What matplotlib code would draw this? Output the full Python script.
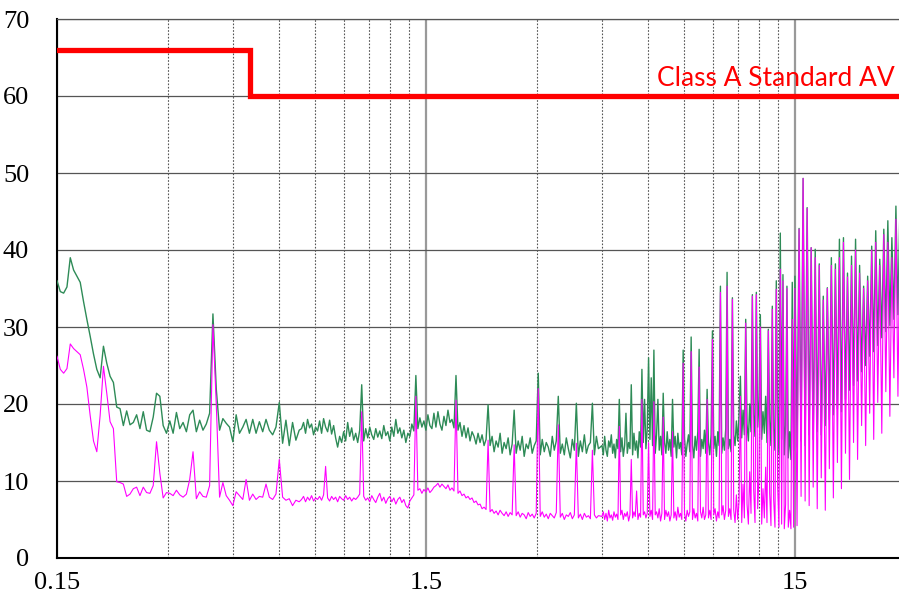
import numpy as np
import matplotlib
matplotlib.use("Agg")
import matplotlib.pyplot as plt
from matplotlib.ticker import FixedLocator, NullFormatter

# Conducted emission (AV detector), dBuV
# segment 1: 0.15 - 0.68 MHz
green_lo = [36.0, 34.6, 34.4, 35.2, 39.0, 37.4, 36.6, 35.8, 33.3, 31.0,
            28.8, 26.5, 24.5, 23.4, 27.5, 25.3, 23.6, 22.8, 19.6, 19.4,
            17.2, 19.1, 17.3, 17.6, 18.6, 16.8, 19.0, 16.6, 16.4, 18.3,
            21.4, 21.0, 17.2, 16.2, 17.8, 16.2, 18.9, 16.8, 17.6, 16.4,
            18.6, 19.2, 16.4, 17.9, 16.6, 17.4, 18.8, 31.7, 22.0, 16.6,
            18.1, 17.5, 17.0, 15.1, 18.6, 16.2, 17.0, 18.0, 16.2, 18.0,
            16.2, 17.7, 16.4, 18.0, 16.6, 16.0, 17.0, 20.2, 14.9, 17.9,
            14.6, 17.6, 15.3, 16.6]
magenta_lo = [26.2, 24.5, 24.0, 24.6, 27.8, 27.2, 26.8, 26.4, 24.5, 22.2,
              18.5, 15.2, 13.8, 18.5, 24.9, 21.4, 17.7, 16.8, 9.9, 9.8,
              9.6, 8.0, 8.3, 9.0, 9.2, 8.1, 9.2, 8.5, 8.4, 9.4,
              15.1, 11.0, 7.8, 8.5, 8.4, 8.1, 8.8, 8.2, 7.9, 8.3,
              10.2, 13.8, 7.7, 8.6, 8.0, 7.9, 9.4, 30.3, 20.0, 7.9,
              9.8, 8.1, 7.5, 6.8, 8.6, 8.1, 7.6, 10.2, 7.5, 8.3,
              7.6, 8.0, 7.9, 9.6, 7.9, 7.6, 8.3, 12.8, 7.9, 7.5,
              7.7, 6.8, 7.5, 7.3]

# segment 2: 0.69 - 4.4 MHz
green_mid = [16.8, 17.6, 16.2, 18.0, 16.9, 17.4, 16.0, 17.0, 16.5, 17.8,
             16.2, 18.1, 17.0, 16.4, 17.9, 16.1, 17.2, 15.6, 14.4, 15.8,
             15.0, 16.4, 15.2, 17.6, 15.8, 16.9, 15.3, 16.2, 15.0, 16.6,
             22.5, 15.2, 16.8, 15.6, 17.0, 16.0, 15.4, 16.8, 15.7, 16.5,
             15.5, 17.2, 15.9, 16.4, 15.2, 17.0, 15.8, 18.0, 16.2, 16.9,
             15.6, 16.6, 15.0, 16.2, 15.8, 17.4, 16.5, 23.7, 16.8, 18.2,
             17.0, 17.8, 16.6, 18.6, 17.2, 16.8, 18.8, 17.0, 19.0, 17.4,
             16.6, 18.4, 17.2, 19.2, 17.6, 18.0, 16.9, 23.7, 16.6, 17.6,
             15.8, 17.2, 15.6, 16.9, 15.2, 16.4, 15.8, 14.8, 16.2, 15.0,
             16.0, 14.6, 15.4, 19.9, 14.6, 15.8, 13.8, 15.2, 14.4, 16.2,
             13.6, 15.0, 14.2, 15.6, 13.4, 14.8, 19.2, 13.6, 15.2, 14.0,
             15.8, 13.2, 14.8, 14.2, 15.6, 13.6, 14.6, 15.2, 24.0, 13.4,
             15.4, 13.8, 15.0, 14.4, 13.2, 15.8, 14.0, 15.2, 21.0, 13.6,
             14.8, 13.4, 15.6, 14.2, 13.0, 15.4, 14.0, 20.1, 13.2, 15.2,
             13.8, 16.0, 13.6, 14.6, 15.0, 20.1, 13.4, 15.8, 14.2]
magenta_mid = [7.6, 8.0, 7.3, 7.9, 7.5, 8.1, 7.4, 7.8, 7.6, 8.0,
               7.5, 8.2, 11.9, 7.8, 7.4, 8.0, 7.6, 7.9, 7.3, 8.0,
               7.7, 7.5, 8.1, 7.6, 7.9, 7.4, 7.8, 7.6, 7.9, 8.3,
               19.0, 8.0, 7.5, 7.8, 7.3, 8.1, 7.6, 7.2, 7.9, 8.4,
               7.4, 7.9, 7.1, 7.7, 8.0, 7.3, 7.8, 7.0, 7.6, 7.9,
               7.2, 7.6, 6.8, 6.5, 7.4, 7.8, 8.2, 21.0, 8.8, 9.0,
               8.4, 8.9, 8.6, 9.1, 8.5, 8.8, 9.2, 9.4, 9.7, 9.2,
               9.6, 9.3, 9.0, 9.5, 8.8, 9.1, 8.7, 20.5, 8.4, 8.7,
               8.1, 8.3, 7.8, 8.0, 7.6, 7.8, 7.2, 7.4, 6.9, 7.0,
               6.4, 6.6, 6.3, 15.3, 6.0, 6.3, 5.8, 6.1, 5.6, 6.2,
               5.8, 5.5, 6.0, 5.4, 5.9, 5.6, 14.7, 5.5, 6.0, 5.3,
               5.8, 5.6, 5.1, 5.9, 5.4, 5.7, 5.2, 5.8, 22.0, 5.4,
               6.0, 5.3, 5.7, 5.1, 5.8, 5.5, 5.2, 5.9, 17.3, 5.3,
               5.8, 5.0, 5.6, 5.4, 5.9, 5.1, 5.6, 14.9, 5.2, 5.7,
               5.0, 5.8, 5.3, 5.5, 5.1, 14.0, 5.6, 5.2, 5.5]

# segment 3: 4.5 - 15 MHz
green_hi = [14.6, 13.4, 15.8, 14.0, 13.2, 15.2, 14.4, 16.0, 13.6, 14.8,
            13.0, 15.4, 14.2, 20.6, 13.8, 15.6, 13.2, 14.6, 18.8, 13.6,
            15.0, 14.2, 22.5, 13.4, 16.2, 14.0, 15.2, 13.0, 16.4, 14.4,
            24.5, 15.0, 20.6, 14.2, 16.8, 26.0, 15.4, 23.4, 14.6, 27.0,
            13.6, 16.0, 20.6, 14.0, 15.8, 13.4, 21.4, 15.0, 13.6, 16.4,
            14.0, 15.4, 13.2, 20.6, 14.4, 15.8, 13.0, 16.2, 14.2, 15.0,
            13.4, 27.0, 15.6, 13.2, 14.8, 16.0, 13.8, 28.7, 14.6, 13.0,
            15.8, 14.0, 16.4, 27.1, 13.2, 15.4, 14.2, 16.6, 13.6, 21.9,
            15.0, 13.4, 16.0, 29.5, 14.2, 15.8, 13.2, 16.4, 14.6, 35.3,
            13.6, 15.6, 14.0, 16.8, 37.1, 14.2, 15.4, 13.8, 33.8, 16.0,
            14.6, 17.8, 15.2, 18.4, 23.6, 15.6, 19.2, 16.0, 31.0, 17.4,
            15.2, 20.0, 16.4, 34.2, 18.6, 15.8, 34.5, 17.0, 20.4, 31.6,
            15.4, 19.0, 16.2, 21.0, 15.0, 29.7, 17.8, 14.6, 32.7, 16.8,
            14.0, 36.0, 18.6, 13.6, 42.2, 15.4, 36.8, 13.4, 17.2, 35.3,
            13.0, 16.4, 12.8, 35.8, 14.0, 36.6]
magenta_hi = [5.4, 6.0, 5.0, 5.8, 4.8, 6.2, 5.2, 5.6, 4.9, 6.0,
              5.3, 5.7, 5.0, 17.1, 5.6, 6.2, 5.0, 5.8, 5.4, 6.0,
              4.8, 5.6, 12.8, 5.2, 6.0, 5.4, 8.7, 5.0, 5.8, 5.3,
              20.6, 5.6, 6.0, 5.2, 5.8, 15.0, 5.4, 6.2, 5.0, 20.3,
              5.6, 6.0, 5.2, 6.4, 4.8, 5.8, 18.3, 5.0, 6.2, 5.4,
              6.0, 4.8, 5.6, 16.4, 5.2, 6.0, 4.9, 6.6, 5.3, 5.8,
              5.0, 25.3, 5.8, 4.8, 6.2, 5.4, 6.0, 26.8, 5.0, 6.4,
              5.2, 5.8, 4.8, 24.8, 6.0, 5.2, 6.6, 5.0, 5.6, 20.6,
              5.2, 6.2, 5.0, 28.4, 5.6, 6.4, 4.8, 6.0, 5.2, 34.5,
              5.6, 6.8, 5.0, 6.2, 35.3, 5.4, 6.4, 5.0, 33.6, 6.2,
              4.6, 8.2, 5.0, 7.4, 21.0, 4.6, 9.6, 5.2, 30.5, 7.0,
              4.4, 11.2, 5.8, 34.0, 8.8, 4.6, 34.2, 6.4, 10.6, 30.0,
              4.4, 9.0, 5.2, 11.8, 4.6, 29.5, 8.4, 4.2, 32.3, 7.6,
              4.0, 34.9, 9.4, 4.0, 37.5, 4.4, 36.0, 3.8, 7.0, 35.0,
              4.0, 6.2, 3.8, 31.0, 4.0, 35.0]

# segment 4: 15.2 - 30 MHz
green_top = [14.4, 42.8, 15.2, 49.3, 14.6, 45.5, 16.0, 40.3, 15.4, 40.1,
             16.4, 38.2, 16.0, 34.0, 17.2, 35.1, 18.0, 39.0, 18.6, 38.2,
             19.4, 41.4, 19.0, 41.6, 20.6, 37.0, 21.8, 39.2, 22.4, 41.4,
             23.0, 38.0, 24.2, 35.3, 25.0, 36.6, 26.2, 40.5, 26.8, 42.5,
             27.6, 38.8, 28.6, 42.7, 29.4, 43.8, 30.2, 41.6, 31.0, 45.7,
             31.6, 45.5, 32.0, 42.0, 32.4]
magenta_top = [4.2, 42.7, 8.0, 49.3, 7.4, 45.4, 6.8, 40.3, 9.2, 39.0,
               6.4, 38.0, 10.4, 33.5, 6.2, 35.0, 11.6, 38.0, 7.8, 37.5,
               12.4, 39.0, 9.0, 41.0, 13.6, 36.5, 10.2, 38.0, 15.0, 40.0,
               12.8, 37.0, 17.2, 35.0, 14.6, 36.0, 18.8, 40.0, 15.4, 41.0,
               20.2, 38.0, 16.2, 42.0, 21.6, 41.0, 18.4, 39.0, 23.4, 44.0,
               21.0, 43.0, 25.2, 40.0, 26.0]

# Class A limit (AV)
limit_freq = [0.15, 0.5, 0.5, 30]
limit_level = [66, 66, 60, 60]

major_ticks = [0.15, 1.5, 15]
major_labels = ["0.15", "1.5", "15"]
minor_ticks = [0.3, 0.45, 0.6, 0.75, 0.9, 1.05, 1.2, 1.35,
               3, 4.5, 6, 7.5, 9, 10.5, 12, 13.5]

# sweep grid of each segment (log spaced points)
freq = np.concatenate([np.geomspace(0.15, 0.68, len(green_lo)),
                       np.geomspace(0.69, 4.4, len(green_mid)),
                       np.geomspace(4.5, 15, len(green_hi)),
                       np.geomspace(15.2, 30, len(green_top))])
green = np.array(green_lo + green_mid + green_hi + green_top)
magenta = np.array(magenta_lo + magenta_mid + magenta_hi + magenta_top)

fig = plt.figure(figsize=(8.99, 6.06), dpi=100)
ax = fig.add_axes([57 / 899, 48 / 606, 849 / 899, 539 / 606])

ax.plot(freq, green, color="#2e8b57", lw=1.0, zorder=3)
ax.plot(freq, magenta, color="#ff00ff", lw=0.8, zorder=4)
ax.plot(limit_freq, limit_level, color="#ff0000", lw=3.8, zorder=5,
        solid_joinstyle="miter")
ax.text(28, 61.3, "Class A Standard AV", color="#ff0000", fontsize=19,
        family="Lato", ha="right", va="baseline", zorder=6)

ax.set_xscale("log")
ax.set_xlim(0.15, 30)
ax.set_ylim(0, 70)
ax.set_xticks(major_ticks)
ax.set_xticklabels(major_labels)
ax.xaxis.set_minor_locator(FixedLocator(minor_ticks))
ax.xaxis.set_minor_formatter(NullFormatter())
ax.set_yticks(range(0, 71, 10))

ax.grid(axis="y", color="#555555", lw=0.9)
ax.grid(axis="x", which="major", color="#999999", lw=1.6)
ax.grid(axis="x", which="minor", color="#555555", lw=0.8, ls=(0, (1.5, 1.5)))
ax.set_axisbelow(True)

ax.tick_params(which="both", length=0)
ax.tick_params(axis="y", pad=20, labelsize=19)
ax.tick_params(axis="x", pad=10, labelsize=19)
for lab in ax.get_xticklabels() + ax.get_yticklabels():
    lab.set_family("Liberation Serif")

ax.spines["left"].set_linewidth(1.5)
ax.spines["bottom"].set_linewidth(1.5)
ax.spines["top"].set_color("#555555")
ax.spines["top"].set_linewidth(0.9)
ax.spines["right"].set_visible(False)

fig.savefig("out.png", dpi=100)
